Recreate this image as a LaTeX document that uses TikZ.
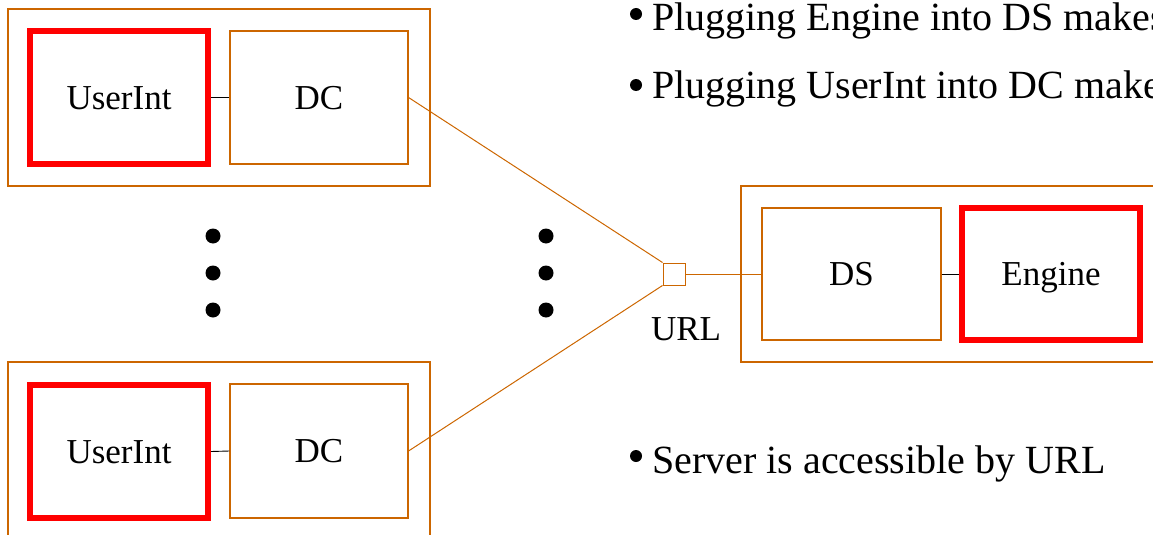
\documentclass[tikz,border=0pt]{standalone}
\usepackage{fontspec}
\setmainfont{Liberation Serif}
\definecolor{brn}{RGB}{204,102,0}
\begin{document}
\begin{tikzpicture}[x=1pt,y=-1pt,
  outer/.style={draw=brn,line width=1.1pt,rectangle,inner sep=0pt},
  comp/.style={draw=brn,line width=1.1pt,rectangle,inner sep=0pt,minimum width=178pt,minimum height=133pt,
     font=\fontsize{35}{40}\selectfont,text height=23.5pt,text depth=0pt},
  plug/.style={draw=red,line width=6pt,rectangle,inner sep=0pt,minimum width=178pt,minimum height=133pt,
     font=\fontsize{35}{40}\selectfont,text height=23.5pt,text depth=0pt},
  bigdot/.style={circle,fill=black,inner sep=0pt,minimum size=15pt},
  bul/.style={circle,fill=black,inner sep=0pt,minimum size=12pt},
  btxt/.style={anchor=base west,inner sep=0pt,font=\fontsize{40}{46}\selectfont},
  link/.style={draw=brn,line width=1pt},
  wire/.style={draw=black,line width=0.9pt}]
\useasboundingbox (0,0) rectangle (1153,535);
\clip (0,0) rectangle (1153,535);
% top client
\node[outer,minimum width=422pt,minimum height=177pt] (otop) at (219,97.5) {};
\node[plug] (ui1) at (119,97.5) {UserInt};
\node[comp] (dc1) at (319,97.5) {DC};
% bottom client
\node[outer,minimum width=422pt,minimum height=177pt] (obot) at (219,450.5) {};
\node[plug] (ui2) at (119,451.5) {UserInt};
\node[comp,minimum height=134pt] (dc2) at (319,451) {DC};
% server
\node[outer,minimum width=422pt,minimum height=176pt] (oserv) at (952,274) {};
\node[comp,minimum width=179pt,minimum height=132pt] (ds) at (851.5,274) {DS};
\node[plug,minimum height=132pt] (eng) at (1051,274) {Engine};
% URL port
\node[draw=brn,line width=1pt,rectangle,inner sep=0pt,minimum size=22pt] (url) at (674,274) {};
\node[font=\fontsize{35}{40}\selectfont,anchor=base,inner sep=0pt] (urllbl) at (686,340) {URL};
% connectors
\draw[wire] (ui1.east) -- (dc1.west);
\draw[wire] (ui2.east) -- (dc2.west);
\draw[wire] (ds.east) -- (eng.west);
\draw[link] (dc1.east) -- (url.north west);
\draw[link] (dc2.east) -- (url.south west);
\draw[link] (url.east) -- (ds.west);
% ellipsis dots
\node[bigdot] (d1) at (213,236) {};
\node[bigdot] (d2) at (213,273) {};
\node[bigdot] (d3) at (213,310) {};
\node[bigdot] (d4) at (546,236) {};
\node[bigdot] (d5) at (546,273) {};
\node[bigdot] (d6) at (546,310) {};
% bullet text
\node[bul] (b1) at (636,14) {};
\node[btxt] (t1) at (652,31) {Plugging Engine into DS makes};
\node[bul] (b2) at (636,85) {};
\node[btxt] (t2) at (652,98) {Plugging UserInt into DC makes};
\node[bul] (b3) at (636,456) {};
\node[btxt] (t3) at (652,473) {Server is accessible by URL};
\end{tikzpicture}
\end{document}
